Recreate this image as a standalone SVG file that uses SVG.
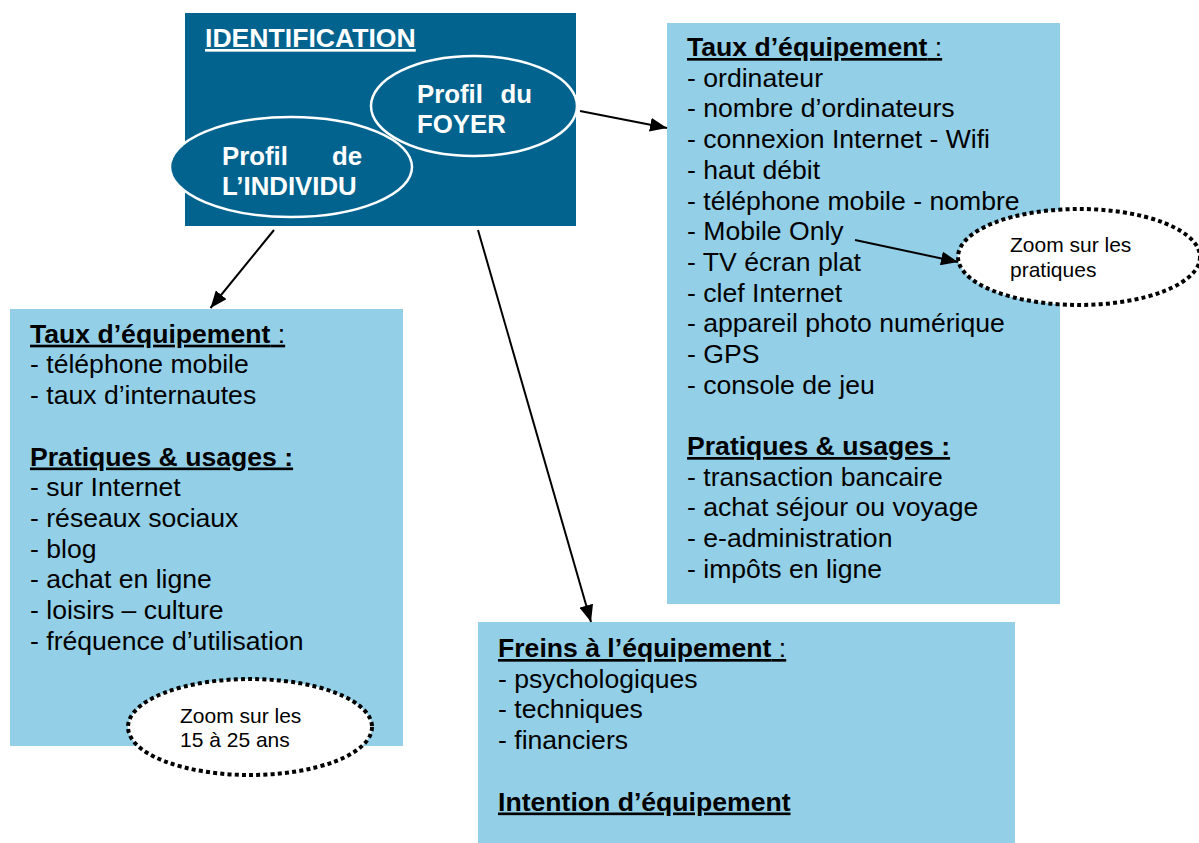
<svg xmlns="http://www.w3.org/2000/svg" width="1199" height="843" viewBox="0 0 1199 843">
<style>
.box{fill:#93D0E8}
.dark{fill:#02638F}
.t{font-family:"Liberation Sans",Arial,sans-serif;font-size:26.6px;fill:#000}
.h{font-weight:bold;text-decoration:underline}
.n{font-weight:normal}
.w{font-family:"Liberation Sans",Arial,sans-serif;font-weight:bold;font-size:25.8px;fill:#fff}
.z{font-family:"Liberation Sans",Arial,sans-serif;font-size:21px;fill:#000}
.dot{fill:#fff;stroke:#000;stroke-width:4;stroke-dasharray:4 3.2}
.ell{fill:#02638F;stroke:#fff;stroke-width:2.5}
.c{stroke:#000;stroke-width:2;fill:none;marker-end:url(#ah)}
</style>
<defs>
<marker id="ah" markerUnits="userSpaceOnUse" markerWidth="18" markerHeight="14" refX="17" refY="7" orient="auto">
<path d="M0,0 L17,7 L0,14 z" fill="#000"/>
</marker>
</defs>
<rect width="1199" height="843" fill="#fff"/>

<g id="identification">
<rect class="dark" x="185" y="13" width="391" height="213"/>
<text class="w" x="205" y="47" style="text-decoration:underline;font-size:26.6px">IDENTIFICATION</text>
<ellipse class="ell" cx="474" cy="106" rx="103" ry="50"/>
<text class="w" x="417" y="103">Profil</text>
<text class="w" x="532" y="103" text-anchor="end">du</text>
<text class="w" x="417" y="133">FOYER</text>
<ellipse class="ell" cx="291" cy="167" rx="121" ry="50"/>
<text class="w" x="222" y="165">Profil</text>
<text class="w" x="362" y="165" text-anchor="end">de</text>
<text class="w" x="222" y="195">L’INDIVIDU</text>
</g>

<g id="foyer-details">
<rect class="box" x="667" y="23" width="393" height="581"/>
<text class="t" x="687" y="56"><tspan class="h">Taux d’équipement<tspan class="n"> :</tspan></tspan></text>
<text class="t" x="687" y="86.7">- ordinateur</text>
<text class="t" x="687" y="117.4">- nombre d’ordinateurs</text>
<text class="t" x="687" y="148.1">- connexion Internet - Wifi</text>
<text class="t" x="687" y="178.8">- haut débit</text>
<text class="t" x="687" y="209.5">- téléphone mobile - nombre</text>
<text class="t" x="687" y="240.2">- Mobile Only</text>
<text class="t" x="687" y="270.9">- TV écran plat</text>
<text class="t" x="687" y="301.6">- clef Internet</text>
<text class="t" x="687" y="332.3">- appareil photo numérique</text>
<text class="t" x="687" y="363">- GPS</text>
<text class="t" x="687" y="393.7">- console de jeu</text>
<text class="t h" x="687" y="455">Pratiques &amp; usages :</text>
<text class="t" x="687" y="485.7">- transaction bancaire</text>
<text class="t" x="687" y="516.4">- achat séjour ou voyage</text>
<text class="t" x="687" y="547.1">- e-administration</text>
<text class="t" x="687" y="577.8">- impôts en ligne</text>
</g>

<g id="zoom-pratiques">
<ellipse class="dot" cx="1079" cy="257" rx="121" ry="48"/>
<text class="z" x="1010" y="252">Zoom sur les</text>
<text class="z" x="1010" y="277">pratiques</text>
</g>

<g id="individu-details">
<rect class="box" x="10" y="309" width="393" height="437"/>
<text class="t" x="30" y="342.7"><tspan class="h">Taux d’équipement<tspan class="n"> :</tspan></tspan></text>
<text class="t" x="30" y="373.4">- téléphone mobile</text>
<text class="t" x="30" y="404.1">- taux d’internautes</text>
<text class="t h" x="30" y="465.5">Pratiques &amp; usages :</text>
<text class="t" x="30" y="496.2">- sur Internet</text>
<text class="t" x="30" y="526.9">- réseaux sociaux</text>
<text class="t" x="30" y="557.6">- blog</text>
<text class="t" x="30" y="588.3">- achat en ligne</text>
<text class="t" x="30" y="619">- loisirs – culture</text>
<text class="t" x="30" y="649.7">- fréquence d’utilisation</text>
</g>

<g id="zoom-jeunes">
<ellipse class="dot" cx="250" cy="727" rx="122" ry="48"/>
<text class="z" x="180" y="723">Zoom sur les</text>
<text class="z" x="180" y="747">15 à 25 ans</text>
</g>

<g id="freins">
<rect class="box" x="478" y="622" width="537" height="221"/>
<text class="t" x="498" y="657"><tspan class="h">Freins à l’équipement<tspan class="n"> :</tspan></tspan></text>
<text class="t" x="498" y="687.7">- psychologiques</text>
<text class="t" x="498" y="718.4">- techniques</text>
<text class="t" x="498" y="749.1">- financiers</text>
<text class="t h" x="498" y="810.5">Intention d’équipement</text>
</g>

<g id="connectors">
<line class="c" x1="274" y1="230" x2="210.5" y2="308"/>
<line class="c" x1="478" y1="230" x2="591" y2="622"/>
<line class="c" x1="580" y1="111" x2="667" y2="128"/>
<line class="c" x1="855" y1="240" x2="958" y2="262"/>
</g>
</svg>
